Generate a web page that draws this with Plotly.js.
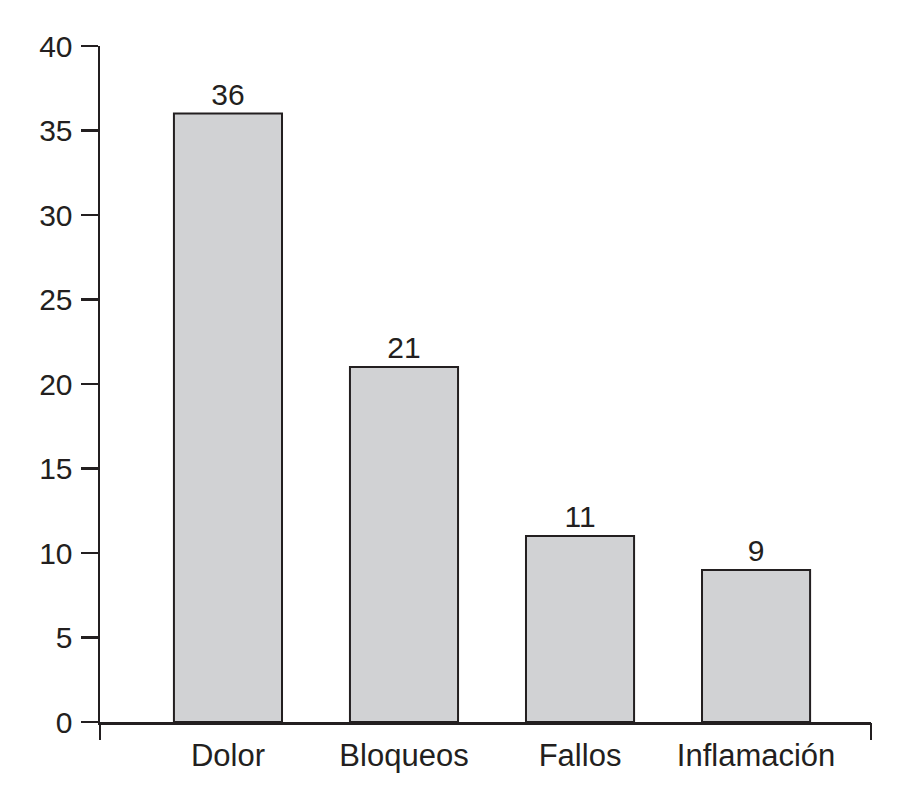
<!DOCTYPE html>
<html>
<head>
<meta charset="utf-8">
<script src="https://cdn.plot.ly/plotly-3.0.1.min.js"></script>
<style>html,body{margin:0;padding:0;background:#fff;}#chart{width:900px;height:788px;}</style>
</head>
<body>
<div id="chart"></div>
<script>
const categories = ["Dolor", "Bloqueos", "Fallos", "Inflamación"];
const values = [36, 21, 11, 9];
const yTicks = [0, 5, 10, 15, 20, 25, 30, 35, 40];

const ink = "#231f20";
const xRange = [-0.727, 3.653];

const bar = {
  type: "bar",
  x: categories,
  y: values,
  text: values.map(String),
  textposition: "outside",
  cliponaxis: false,
  textfont: {family: "Liberation Sans, Arial, sans-serif", size: 30, color: ink},
  width: 0.614,
  marker: {color: "#d1d2d4", line: {color: ink, width: 2}},
  hoverinfo: "none",
  showlegend: false
};
// invisible trace on the second x axis so its end ticks are drawn
const endTicks = {
  type: "scatter", mode: "none", x: xRange, y: [0, 0], xaxis: "x2", yaxis: "y",
  hoverinfo: "none", showlegend: false
};

const layout = {
  width: 900, height: 788,
  margin: {l: 100, r: 29, t: 46, b: 66},
  paper_bgcolor: "#fff", plot_bgcolor: "#fff",
  font: {family: "Liberation Sans, Arial, sans-serif", color: ink},
  xaxis: {
    type: "category", range: xRange, showgrid: false, zeroline: false,
    showline: true, linecolor: ink, linewidth: 2.5,
    ticks: "", tickfont: {size: 31, color: ink}, ticklabelstandoff: 4
  },
  xaxis2: {
    overlaying: "x", type: "linear", range: xRange, side: "bottom",
    showgrid: false, zeroline: false, showline: false,
    tickmode: "array", tickvals: xRange, ticktext: ["", ""], showticklabels: false,
    ticks: "outside", ticklen: 17, tickwidth: 2.5, tickcolor: ink
  },
  yaxis: {
    range: [0, 40], tickmode: "array", tickvals: yTicks,
    showgrid: false, zeroline: false, showline: true, linecolor: ink, linewidth: 2.5,
    ticks: "outside", ticklen: 17, tickwidth: 2.5, tickcolor: ink,
    tickfont: {size: 30, color: ink}, ticklabelstandoff: 2
  },
  bargap: 0
};

Plotly.newPlot("chart", [bar, endTicks], layout, {displayModeBar: false, staticPlot: true});
</script>
</body>
</html>
